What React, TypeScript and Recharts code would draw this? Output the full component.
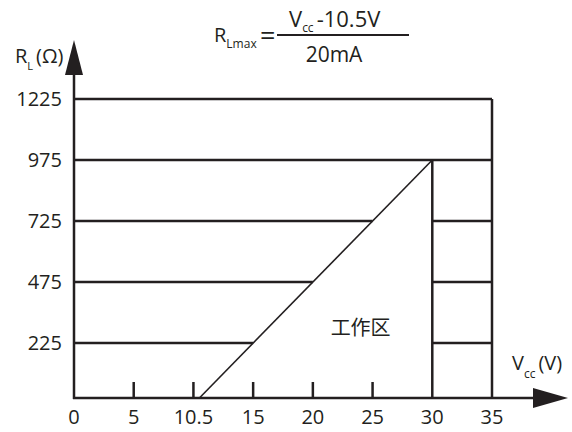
import {
    ComposedChart,
    Line,
    XAxis,
    YAxis,
    ReferenceLine,
    ReferenceDot,
} from "recharts";

// x axis (Vcc, V)
const xTicks = [0, 5, 10, 15, 20, 25, 30, 35];
const xTickLabels = ["0", "5", "10.5", "15", "20", "25", "30", "35"];
const xTickMarks = [5, 10, 15, 20, 25];

// y axis (RL, ohm)
const yTicks = [225, 475, 725, 975, 1225];
// where each horizontal row stops on the left (slope or right wall)
const rowLeftEnd = [15, 20, 25, 35, 35];
// rows that come back between 30V and 35V
const rowRightStart = [30, 30, 30, null, null];
const rowRightEnd = [35, 35, 35, null, null];

// vertical walls
const wallVcc = [30, 35];
const wallTop = [975, 1225];

// RLmax slope
const slopeVcc = [10.5, 30];
const slopeR = [0, 975];

const regionLabel = "工作区";
const regionVcc = 24;
const regionR = 287;

const ink = "#231f20";
const font = "'Open Sans', 'Noto Sans', sans-serif";
const cjk = "'Noto Sans CJK SC', sans-serif";

const slopeData = slopeVcc.map((v, i) => ({ vcc: v, r: slopeR[i] }));

function VccTick(props: any) {
    const { x, y, payload } = props;
    const i = xTicks.indexOf(payload.value);
    return (
        <g>
            {xTickMarks.includes(payload.value) && (
                <line x1={x} x2={x} y1={y} y2={y - 16} stroke={ink} strokeWidth={2.5} />
            )}
            <text x={x} y={y + 26} textAnchor="middle" fontSize={20} fill={ink} fontFamily={font}>
                {xTickLabels[i]}
            </text>
        </g>
    );
}

function XArrow(props: any) {
    const vb = props.viewBox || {};
    const y0 = vb.y;
    const end = vb.x + vb.width;
    return (
        <g>
            <line x1={vb.x - 1} x2={end + 42} y1={y0} y2={y0} stroke={ink} strokeWidth={2.5} />
            <polygon points={`${end + 41},${y0 - 10} ${end + 76},${y0} ${end + 41},${y0 + 10}`} fill={ink} />
            <text x={end + 20} y={y0 - 28} fontSize={20} fill={ink} fontFamily={font}>
                V
                <tspan fontSize={12} dy={8}>cc</tspan>
                <tspan dy={-8} dx={3}>(V)</tspan>
            </text>
        </g>
    );
}

function YArrow(props: any) {
    const vb = props.viewBox || {};
    const x0 = vb.x + vb.width;
    const bottom = vb.y + vb.height;
    return (
        <g>
            <line x1={x0} x2={x0} y1={bottom + 1} y2={vb.y - 30} stroke={ink} strokeWidth={2.5} />
            <polygon points={`${x0 - 9},${vb.y - 24} ${x0},${vb.y - 59} ${x0 + 9},${vb.y - 24}`} fill={ink} />
            <text x={15} y={vb.y - 36} fontSize={20} fill={ink} fontFamily={font}>
                R
                <tspan fontSize={11} dy={7}>L</tspan>
                <tspan dy={-7} dx={3}>(Ω)</tspan>
            </text>
        </g>
    );
}

function Formula() {
    return (
        <svg width={572} height={80} style={{ position: "absolute", left: 0, top: 0 }}>
            <g fill={ink} fontFamily={font}>
                <text x={214} y={42} fontSize={20}>
                    R<tspan fontSize={12} dy={6}>Lmax</tspan>
                </text>
                <text x={260} y={45} fontSize={27}>=</text>
                <line x1={277} x2={409} y1={35} y2={35} stroke={ink} strokeWidth={2} />
                <text x={289} y={27} fontSize={22}>
                    V<tspan fontSize={12} dy={5}>cc</tspan>
                    <tspan dy={-5} dx={3}>-10.5V</tspan>
                </text>
                <text x={334} y={62} fontSize={21} textAnchor="middle">20mA</text>
            </g>
        </svg>
    );
}

export default function App() {
    return (
        <div style={{ position: "absolute", left: 0, top: 0, width: 572, height: 432 }}>
            <ComposedChart
                width={572}
                height={432}
                data={slopeData}
                margin={{ top: 99, right: 80, bottom: 0, left: 0 }}
            >
                <XAxis
                    dataKey="vcc"
                    type="number"
                    domain={[0, 35]}
                    ticks={xTicks}
                    interval={0}
                    height={34}
                    axisLine={false}
                    tickLine={false}
                    tickSize={0}
                    tickMargin={0}
                    tick={<VccTick />}
                    label={{ content: (p: any) => <XArrow {...p} /> }}
                />
                <YAxis
                    type="number"
                    domain={[0, 1225]}
                    ticks={yTicks}
                    interval={0}
                    width={74}
                    axisLine={false}
                    tickLine={false}
                    tickSize={0}
                    tickMargin={12}
                    tick={{ fontSize: 20, fill: ink, fontFamily: font }}
                    label={{ content: (p: any) => <YArrow {...p} /> }}
                />
                {yTicks.map((r, i) => (
                    <ReferenceLine
                        key={"l" + r}
                        segment={[
                            { x: 0, y: r },
                            { x: rowLeftEnd[i], y: r },
                        ]}
                        stroke={ink}
                        strokeWidth={2.5}
                        ifOverflow="visible"
                    />
                ))}
                {yTicks.map((r, i) =>
                    rowRightStart[i] == null ? null : (
                        <ReferenceLine
                            key={"r" + r}
                            segment={[
                                { x: rowRightStart[i], y: r },
                                { x: rowRightEnd[i], y: r },
                            ]}
                            stroke={ink}
                            strokeWidth={2.5}
                            ifOverflow="visible"
                        />
                    )
                )}
                {wallVcc.map((v, i) => (
                    <ReferenceLine
                        key={"w" + v}
                        segment={[
                            { x: v, y: 0 },
                            { x: v, y: wallTop[i] },
                        ]}
                        stroke={ink}
                        strokeWidth={2.5}
                        ifOverflow="visible"
                    />
                ))}
                <Line
                    type="linear"
                    dataKey="r"
                    stroke={ink}
                    strokeWidth={1.6}
                    dot={false}
                    activeDot={false}
                    isAnimationActive={false}
                />
                <ReferenceDot
                    x={regionVcc}
                    y={regionR}
                    r={0}
                    fill="none"
                    stroke="none"
                    ifOverflow="visible"
                    label={{ value: regionLabel, position: "center", fontSize: 20, fill: ink, fontFamily: cjk }}
                />
            </ComposedChart>
            <Formula />
        </div>
    );
}
